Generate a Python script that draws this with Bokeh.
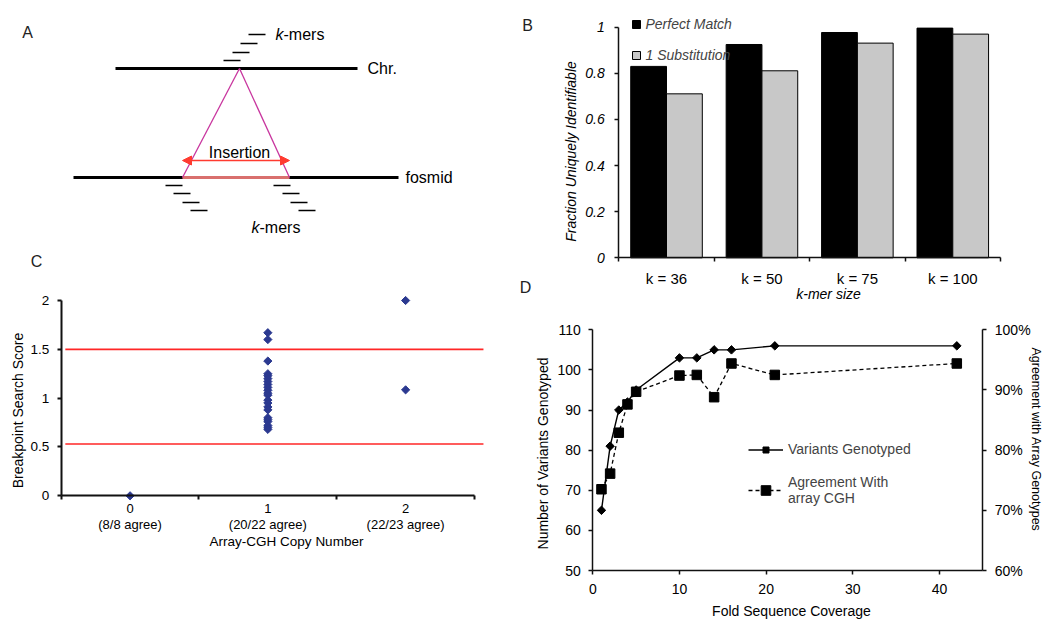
from bokeh.plotting import figure
from bokeh.models import (Range1d, LinearAxis, FixedTicker, NumeralTickFormatter,
                          Legend, LegendItem, Arrow, NormalHead)
from bokeh.core.properties import value
from bokeh.embed import file_html
from bokeh.resources import INLINE
import numpy as np

FONT = "Liberation Sans"
W, H = 1050, 626

# ---------------- Panel B data ----------------
k_labels = ["k = 36", "k = 50", "k = 75", "k = 100"]
perfect_match = [0.830, 0.925, 0.977, 0.996]
one_substitution = [0.711, 0.811, 0.931, 0.970]

# ---------------- Panel C data ----------------
copy_numbers = [0, 1, 2]
copy_labels = ["0\n(8/8 agree)", "1\n(20/22 agree)", "2\n(22/23 agree)"]
scores_cn0 = [0.0]
scores_cn1 = [1.67, 1.60, 1.38, 1.25, 1.23, 1.20, 1.17, 1.14, 1.11, 1.08, 1.05,
              1.03, 0.98, 0.95, 0.91, 0.88, 0.80, 0.78, 0.76, 0.72, 0.70, 0.68]
scores_cn2 = [2.00, 1.085]
thresholds = [0.53, 1.50]

# ---------------- Panel D data ----------------
coverage = [1, 2, 3, 4, 5, 10, 12, 14, 16, 21, 42]
variants_genotyped = [65, 81, 90, 92, 95, 103, 103, 105, 105, 106, 106]
agreement = [0.735, 0.761, 0.829, 0.876, 0.897, 0.924, 0.925, 0.888, 0.944, 0.925, 0.944]

# ---------------- Panel A diagram geometry (page pixels) ----------------
chr_line = [(115, 68), (357, 68)]
fosmid_line = [(73, 177), (398, 177)]
insert_seg = [(182, 177), (289, 177)]
tri_apex = (239, 68)
kmer_top_x0 = [223, 232, 240, 248]
kmer_top_y = [60, 52, 43, 34]
kmer_bl_x0 = [165, 173, 182, 190]
kmer_br_x0 = [273, 282, 290, 298]
kmer_bot_y = [185, 193, 202, 210]
KLEN = 17


def px_range(d0, d1, p0, p1, total):
    """Range whose data d0,d1 fall on canvas pixels p0,p1 (pixels counted from range start)."""
    u = (d1 - d0) / (p1 - p0)
    start = d0 - p0 * u
    return Range1d(start, start + total * u)


p = figure(width=W, height=H, x_range=Range1d(0, W), y_range=Range1d(H, 0),
           x_axis_type=None, y_axis_type=None, min_border=0,
           output_backend="svg", toolbar_location=None)
p.outline_line_color = None

# panel coordinate systems (placed on the page like the reference)
p.extra_x_ranges = {
    "bx": px_range(0, len(k_labels), 618.3, 1000, W),
    "cx": px_range(-0.5, 2.5, 60.7, 474, W),
    "dx": px_range(0, 45, 592.3, 982.3, W),
}
p.extra_y_ranges = {
    "by": px_range(0, 1, H - 257.3, H - 26.7, H),
    "cy": px_range(0, 2, H - 495.3, H - 300, H),
    "dy": px_range(50, 110, H - 570, H - 329.3, H),
    "dp": px_range(0.6, 1.0, H - 570, H - 329.3, H),
}


def style_axis(ax, size="14px", italic=False, lw=1.5):
    ax.axis_line_color = "#111111"
    ax.axis_line_width = lw
    ax.major_tick_line_color = "#111111"
    ax.major_tick_line_width = lw
    ax.major_tick_in = 0
    ax.major_tick_out = 4
    ax.minor_tick_line_color = None
    ax.major_label_text_font = FONT
    ax.major_label_text_font_size = size
    ax.major_label_text_color = "black"
    ax.major_label_text_font_style = "italic" if italic else "normal"


def boundary_ticks(ax, lw=1.5):
    ax.major_tick_line_color = None
    ax.minor_tick_line_color = "#111111"
    ax.minor_tick_line_width = lw
    ax.minor_tick_in = 0
    ax.minor_tick_out = 4


def txt(x, y, s, size="14px", align="center", italic=False, angle=0.0, color="black"):
    p.text(x=[x], y=[y], text=[s], text_font=value(FONT), text_font_size=size,
           text_align=align, text_baseline="middle", angle=angle,
           text_font_style="italic" if italic else "normal", text_color=color)


# ======================= Panel A =======================
p.segment(x0=[chr_line[0][0], fosmid_line[0][0]], y0=[chr_line[0][1], fosmid_line[0][1]],
          x1=[chr_line[1][0], fosmid_line[1][0]], y1=[chr_line[1][1], fosmid_line[1][1]],
          line_color="black", line_width=3.2)
p.segment(x0=[insert_seg[0][0]], y0=[insert_seg[0][1]], x1=[insert_seg[1][0]], y1=[insert_seg[1][1]],
          line_color="#D9706E", line_width=3.2)
p.segment(x0=[tri_apex[0], tri_apex[0]], y0=[tri_apex[1], tri_apex[1]],
          x1=[insert_seg[0][0], insert_seg[1][0]], y1=[insert_seg[0][1], insert_seg[1][1]],
          line_color="#C8359E", line_width=1.3)
p.segment(x0=kmer_top_x0, y0=kmer_top_y, x1=[x + KLEN for x in kmer_top_x0], y1=kmer_top_y,
          line_color="black", line_width=1.5)
p.segment(x0=kmer_bl_x0 + kmer_br_x0, y0=kmer_bot_y + kmer_bot_y,
          x1=[x + KLEN for x in kmer_bl_x0 + kmer_br_x0], y1=kmer_bot_y + kmer_bot_y,
          line_color="black", line_width=1.5)
p.add_layout(Arrow(x_start=insert_seg[0][0], y_start=160, x_end=insert_seg[1][0], y_end=160,
                   line_color="#FF3B30", line_width=1.6,
                   start=NormalHead(size=9, fill_color="#FF3B30", line_color="#FF3B30"),
                   end=NormalHead(size=9, fill_color="#FF3B30", line_color="#FF3B30")))
txt(367, 68, "Chr.", "16px", "left")
txt(405, 177, "fosmid", "16px", "left")
txt(239, 152, "Insertion", "16px")
txt(275, 34, "k", "16px", "left", italic=True)
txt(283, 34, "-mers", "16px", "left")
txt(251, 227, "k", "16px", "left", italic=True)
txt(259, 227, "-mers", "16px", "left")

# panel letters
txt(27, 32, "A", "16px", color="#222222")
txt(527, 25, "B", "16px", color="#222222")
txt(36, 261, "C", "16px", color="#222222")
txt(525, 287, "D", "16px", color="#222222")

# ======================= Panel B =======================
centers = np.arange(len(k_labels)) + 0.5
bounds_b = list(np.arange(len(k_labels) + 1).astype(float))
rb1 = p.vbar(x=centers - 0.1875, top=perfect_match, width=0.375, bottom=0,
             fill_color="black", line_color="black", line_width=1,
             x_range_name="bx", y_range_name="by")
rb2 = p.vbar(x=centers + 0.1875, top=one_substitution, width=0.375, bottom=0,
             fill_color="#C8C8C8", line_color="black", line_width=1,
             x_range_name="bx", y_range_name="by")
# square legend keys styled like the bars (zero-size markers on the bar tops)
kb1 = p.scatter(x=centers - 0.1875, y=perfect_match, marker="square", size=0,
                fill_color="black", line_color="black", x_range_name="bx", y_range_name="by")
kb2 = p.scatter(x=centers + 0.1875, y=one_substitution, marker="square", size=0,
                fill_color="#C8C8C8", line_color="black", x_range_name="bx", y_range_name="by")
bx_ax = LinearAxis(x_range_name="bx", y_range_name="by", fixed_location=0,
                   bounds=(0, len(k_labels)),
                   ticker=FixedTicker(ticks=list(centers), minor_ticks=bounds_b))
style_axis(bx_ax, size="15px")
boundary_ticks(bx_ax)
bx_ax.major_label_overrides = {float(c): lab for c, lab in zip(centers, k_labels)}
bx_ax.major_label_standoff = 8
p.add_layout(bx_ax, "below")
by_ax = LinearAxis(x_range_name="bx", y_range_name="by", fixed_location=0, bounds=(0, 1),
                   ticker=FixedTicker(ticks=[0, 0.2, 0.4, 0.6, 0.8, 1.0]))
style_axis(by_ax, size="14px", italic=True)
by_ax.major_label_overrides = {0: "0", 0.2: "0.2", 0.4: "0.4", 0.6: "0.6", 0.8: "0.8", 1.0: "1"}
by_ax.major_label_standoff = 10
p.add_layout(by_ax, "left")
txt(570, 151, "Fraction Uniquely Identifiable", "14px", italic=True, angle=np.pi / 2)
txt(828, 293, "k-mer size", "14px", italic=True)


def one_legend(label, renderers, x, bottom, gw, gh, lh, standoff, italic=False):
    lg = Legend(items=[LegendItem(label=label, renderers=renderers)],
                location=(x, H - bottom), orientation="vertical", padding=0, margin=0,
                spacing=0, glyph_width=gw, glyph_height=gh, label_height=lh,
                label_standoff=standoff, border_line_color=None, background_fill_alpha=0,
                label_text_font=FONT, label_text_font_size="14px",
                label_text_font_style="italic" if italic else "normal")
    p.add_layout(lg)


one_legend("Perfect Match", [kb1], 625.5, 34, 20, 20, 20, 0, italic=True)
one_legend("1 Substitution", [kb2], 625.5, 64.5, 20, 20, 20, 0, italic=True)

# ======================= Panel C =======================
p.segment(x0=[-0.47] * len(thresholds), x1=[2.565] * len(thresholds), y0=thresholds, y1=thresholds,
          line_color="#FF2626", line_width=1.6, x_range_name="cx", y_range_name="cy")
for cn, sc in zip(copy_numbers, [scores_cn0, scores_cn1, scores_cn2]):
    p.scatter(x=[cn] * len(sc), y=sc, marker="square", angle=np.pi / 4, size=5.8,
              fill_color="#2B3990", line_color="#2B3990", x_range_name="cx", y_range_name="cy")
cx_ax = LinearAxis(x_range_name="cx", y_range_name="cy", fixed_location=0, bounds=(-0.5, 2.5),
                   ticker=FixedTicker(ticks=copy_numbers, minor_ticks=[-0.5, 0.5, 1.5, 2.5]))
style_axis(cx_ax, size="13px", lw=2)
boundary_ticks(cx_ax, lw=2)
cx_ax.major_label_overrides = {c: lab for c, lab in zip(copy_numbers, copy_labels)}
cx_ax.major_label_text_line_height = 1.08
cx_ax.major_label_standoff = 1
p.add_layout(cx_ax, "below")
cy_ax = LinearAxis(x_range_name="cx", y_range_name="cy", fixed_location=-0.5, bounds=(0, 2),
                   ticker=FixedTicker(ticks=[0, 0.5, 1, 1.5, 2]))
style_axis(cy_ax, size="13.5px", lw=2)
cy_ax.major_label_overrides = {0: "0", 0.5: "0.5", 1: "1", 1.5: "1.5", 2: "2"}
cy_ax.major_label_standoff = 8
p.add_layout(cy_ax, "left")
txt(17, 410, "Breakpoint Search Score", "14px", angle=np.pi / 2)
txt(286, 541, "Array-CGH Copy Number", "13.5px")

# ======================= Panel D =======================
l2 = p.line(coverage, agreement, line_color="black", line_width=1.3, line_dash="4 3",
            x_range_name="dx", y_range_name="dp")
s2 = p.scatter(coverage, agreement, marker="square", size=9.5, fill_color="black",
               line_color="black", x_range_name="dx", y_range_name="dp")
l1 = p.line(coverage, variants_genotyped, line_color="black", line_width=1.4,
            x_range_name="dx", y_range_name="dy")
s1 = p.scatter(coverage, variants_genotyped, marker="square", angle=np.pi / 4, size=6,
               fill_color="black", line_color="black", x_range_name="dx", y_range_name="dy")
dx_ax = LinearAxis(x_range_name="dx", y_range_name="dy", fixed_location=50, bounds=(0, 45),
                   ticker=FixedTicker(ticks=[0, 10, 20, 30, 40]))
style_axis(dx_ax)
dx_ax.major_label_standoff = 9
p.add_layout(dx_ax, "below")
dy_ax = LinearAxis(x_range_name="dx", y_range_name="dy", fixed_location=0, bounds=(50, 110),
                   ticker=FixedTicker(ticks=[50, 60, 70, 80, 90, 100, 110]))
style_axis(dy_ax)
dy_ax.major_label_standoff = 8
p.add_layout(dy_ax, "left")
dp_ax = LinearAxis(x_range_name="dx", y_range_name="dp", fixed_location=45, bounds=(0.6, 1.0),
                   ticker=FixedTicker(ticks=[0.6, 0.7, 0.8, 0.9, 1.0]),
                   formatter=NumeralTickFormatter(format="0%"))
style_axis(dp_ax)
dp_ax.major_label_standoff = 8
p.add_layout(dp_ax, "right")
txt(542, 453, "Number of Variants Genotyped", "14px", angle=np.pi / 2)
txt(1035, 439, "Agreement with Array Genotypes", "12.5px", angle=-np.pi / 2)
txt(791, 610, "Fold Sequence Coverage", "14px")

one_legend("Variants Genotyped", [l1, s1], 748, 457, 35, 15, 15, 5)
one_legend("Agreement With\narray CGH", [l2, s2], 748, 506, 35, 24, 16, 5)

open("out.html", "w").write(file_html(p, INLINE))
